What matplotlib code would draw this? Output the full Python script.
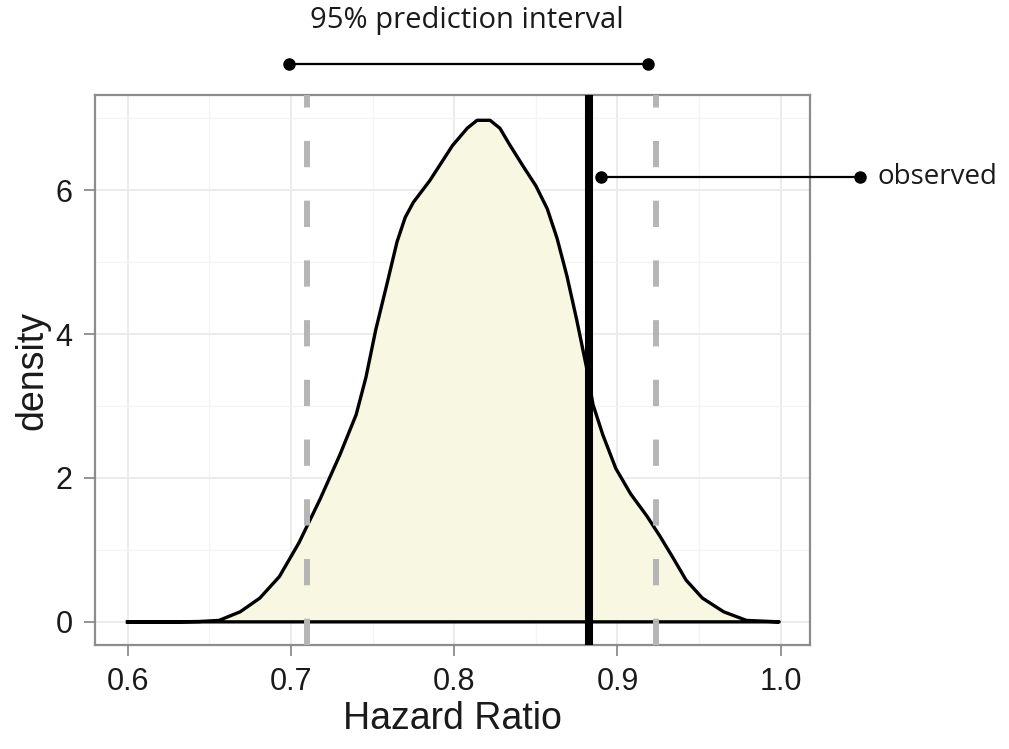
import numpy as np
import matplotlib.pyplot as plt

plt.rcParams['font.family'] = 'Liberation Sans'

# density curve
hr = [0.600, 0.630, 0.644, 0.656, 0.669, 0.681, 0.693, 0.705, 0.718, 0.730,
      0.740, 0.746, 0.752, 0.759, 0.765, 0.770, 0.775, 0.780, 0.785, 0.791, 0.799,
      0.808, 0.814, 0.822, 0.828, 0.834, 0.842, 0.850, 0.857, 0.863, 0.869,
      0.875, 0.881, 0.885, 0.891, 0.899, 0.908, 0.918, 0.926, 0.934, 0.942,
      0.952, 0.965, 0.979, 0.999]
dens = [0.00, 0.00, 0.005, 0.02, 0.14, 0.33, 0.63, 1.10, 1.71, 2.32,
        2.88, 3.40, 4.06, 4.71, 5.28, 5.62, 5.83, 5.98, 6.13, 6.34, 6.62,
        6.86, 6.97, 6.97, 6.86, 6.63, 6.34, 6.06, 5.74, 5.33, 4.81,
        4.20, 3.54, 3.02, 2.60, 2.13, 1.78, 1.47, 1.19, 0.89, 0.58,
        0.33, 0.14, 0.02, 0.00]
pi_low, pi_high = 0.710, 0.9235
observed = 0.8825

fig = plt.figure(figsize=(10.09, 7.49), dpi=100)
ax = fig.add_axes([0.094, 0.139, 0.709, 0.734])

ax.set_xlim(0.58, 1.018)
ax.set_ylim(-0.32, 7.32)
ax.set_xticks([0.6, 0.7, 0.8, 0.9, 1.0])
ax.set_xticklabels(['0.6', '0.7', '0.8', '0.9', '1.0'])
ax.set_yticks([0, 2, 4, 6])
ax.set_xticks([0.65, 0.75, 0.85, 0.95], minor=True)
ax.set_yticks([1, 3, 5, 7], minor=True)
ax.grid(which='major', color='#ebebeb', lw=1.4)
ax.grid(which='minor', color='#f4f4f4', lw=0.9)
ax.set_axisbelow(True)
ax.tick_params(which='major', length=8, width=1.3, color='#8c8c8c', pad=8,
               labelsize=22, labelcolor='#1a1a1a')
ax.tick_params(which='minor', length=0)
for s in ax.spines.values():
    s.set_color('#8c8c8c')
    s.set_linewidth(1.6)

ax.fill_between(hr, dens, 0, color='#f7f7e2', zorder=2)
ax.plot(hr + [hr[0]], dens + [dens[0]], color='black', lw=2.4,
        solid_joinstyle='round', zorder=3)
for v in (pi_low, pi_high):
    ax.axvline(v, color='#b5b5b5', lw=4.3, ls=(0, (4.4, 5.6)), zorder=4)
ax.axvline(observed, color='black', lw=5.8, zorder=5)

ax.set_xlabel('Hazard Ratio', fontsize=27, color='#1a1a1a', labelpad=3)
ax.set_ylabel('density', fontsize=27, color='#1a1a1a', labelpad=4)

# annotations outside the panel
ax.plot([0.699, 0.9185], [7.75, 7.75], color='black', lw=1.6, marker='o', ms=8, clip_on=False, zorder=6)
ax.text(0.8075, 8.36, '95% prediction interval', family='Open Sans', fontsize=21,
        ha='center', va='center', color='#1a1a1a')
ax.plot([0.8897, 1.0484], [6.18, 6.18], color='black', lw=1.6, marker='o', ms=8, clip_on=False, zorder=6)
ax.text(1.059, 6.18, 'observed', family='Open Sans', fontsize=20,
        ha='left', va='center', color='#1a1a1a')

plt.savefig('out.png', dpi=100)
